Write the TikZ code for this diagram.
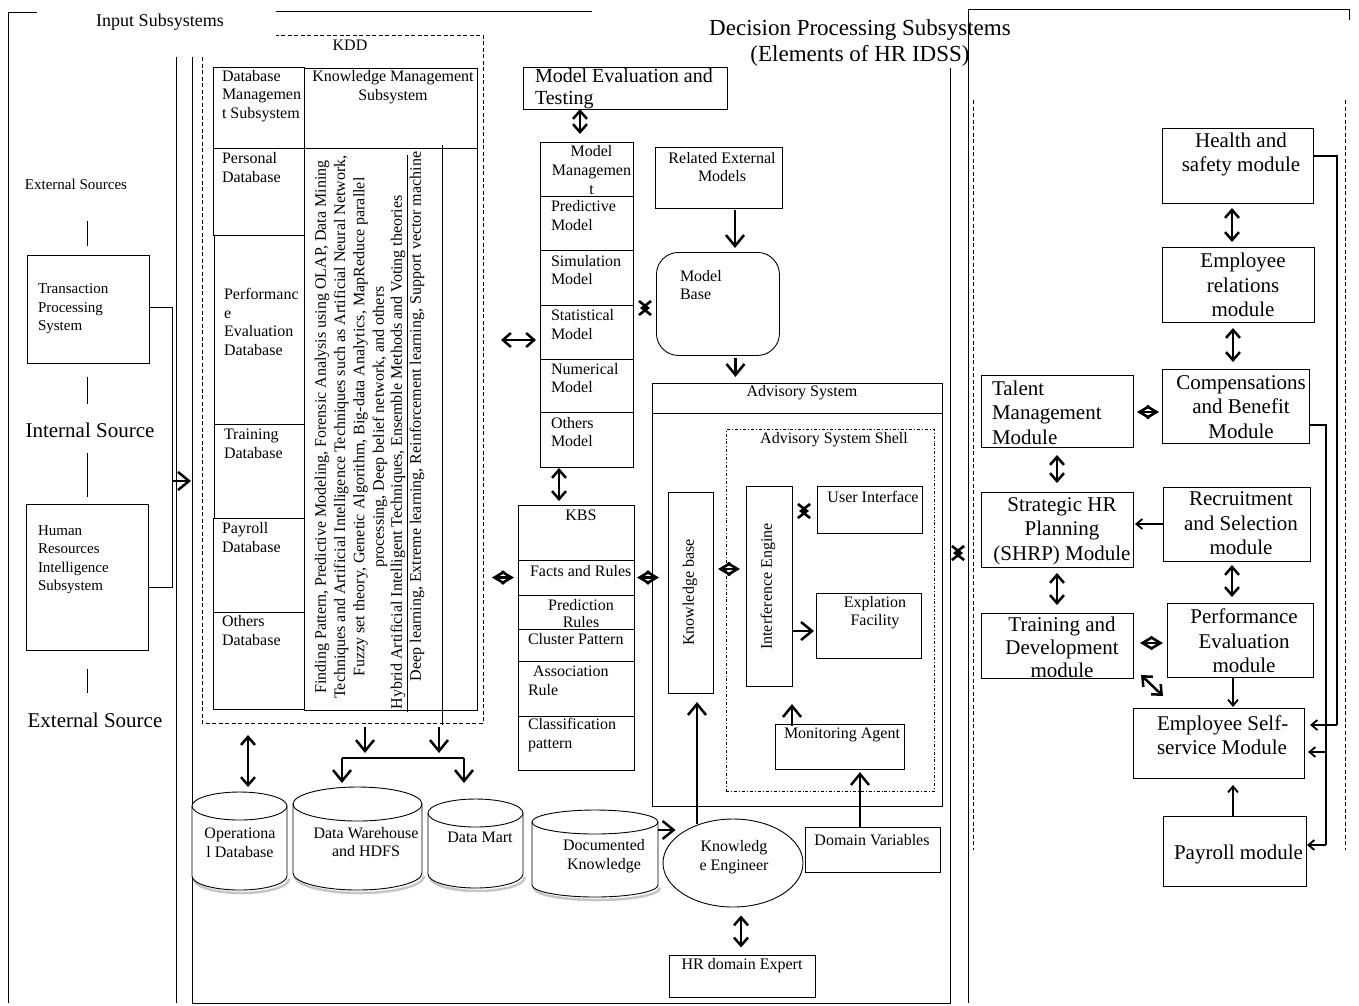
\documentclass[tikz,border=0pt]{standalone}
\usepackage{fontspec}
\setmainfont{Liberation Serif}
\usetikzlibrary{arrows.meta,shapes.geometric}
\newcommand\rbox[5]{\node[bx, minimum width={(#4-#2)*1pt}, minimum height={(#5-#3)*1pt}] (#1) at (#2,#3) {};}
\newcommand\cyl[6]{%
 \pgfmathsetmacro\crx{(#3-#2)/2}%
 \draw[gray!45, line width=2.5pt] (#2+2,#5-#6+3) arc[start angle=180,end angle=360,x radius=\crx pt,y radius=#6pt];%
 \draw[fill=white] (#2,#4+#6) -- (#2,#5-#6) arc[start angle=180,end angle=360,x radius=\crx pt,y radius=#6pt] -- (#3,#4+#6) arc[start angle=0,end angle=180,x radius=\crx pt,y radius=#6pt] -- cycle;%
 \draw (#2,#4+#6) arc[start angle=180,end angle=360,x radius=\crx pt,y radius=#6pt];%
 \node[tx] (#1) at ({(#2+#3)/2},{(#4+#5)/2}) {};%
}
\tikzset{
 bx/.style={draw, line width=0.9pt, inner sep=0pt, outer sep=0pt, anchor=north west},
 tx/.style={inner sep=0pt, outer sep=0pt},
 f15/.style={font=\fontsize{15}{18.5}\selectfont},
 f16/.style={font=\fontsize{16}{18.7}\selectfont},
 f16r/.style={font=\fontsize{16}{19.3}\selectfont},
 f18/.style={font=\fontsize{18}{21}\selectfont},
 f20/.style={font=\fontsize{20}{22}\selectfont},
 f21/.style={font=\fontsize{21}{24.5}\selectfont},
 f23/.style={font=\fontsize{23}{25.5}\selectfont},
 ar/.style={line width=2.5pt, -{Straight Barb[length=11pt,width=18pt]}},
 dar/.style={line width=2.5pt, {Straight Barb[length=8pt,width=14pt]}-{Straight Barb[length=8pt,width=14pt]}},
 dia/.style={line width=2.6pt, {Straight Barb[length=10pt,width=12pt]}-{Straight Barb[length=10pt,width=12pt]}},
 stararr/.style={line width=2.6pt, {Straight Barb[length=9pt,width=14pt]}-{Straight Barb[length=9pt,width=14pt]}},
 sar/.style={line width=1.8pt, -{Straight Barb[length=6pt,width=10pt]}},
 thinl/.style={line width=1.1pt},
}
\begin{document}
\begin{tikzpicture}[x=1pt,y=-1pt,line width=0.9pt]
\useasboundingbox (0,0) rectangle (1359,1005);
\fill[white] (0,0) rectangle (1359,1005);

% ---------- frames ----------
\draw (37,12) -- (8,12) -- (8,1003);
\draw (276,11) -- (592,11);
\node[tx,f18] (insub) at (160,22) {Input Subsystems};
\draw (176,57) -- (176,1003);
\draw (192,57) -- (192,1003) -- (950,1003) -- (950,68);
\draw (968,1003) -- (968,9) -- (1349,9) -- (1349,20);
\draw[dash pattern=on 4pt off 2.5pt] (973,100) -- (973,850);
\draw[dash pattern=on 4pt off 2.5pt] (1345,100) -- (1345,850);
\node[tx,f23,align=center] (dps) at (860,43) {Decision Processing Subsystems\\(Elements of HR IDSS)};

% ---------- left: sources ----------
\node[tx,f15] (exts) at (76,184) {External Sources};
\rbox{tps}{27}{255}{149}{363}
\node[tx,f15,align=left,anchor=west] (tpst) at (38,309) {Transaction\\Processing\\System};
\node[tx,f21] (ints) at (90,430) {Internal Source};
\rbox{hris}{26}{504}{148}{650}
\node[tx,f15,align=left,anchor=west] (hrist) at (38,559.5) {Human\\Resources\\Intelligence\\Subsystem};
\node[tx,f21] (ext) at (95,720) {External Source};
\draw (87,221) -- (87,246);
\draw (87,377) -- (87,404);
\draw (87,453) -- (87,497);
\draw (87,669) -- (87,693);
\draw ([yshift=2pt]tps.east) -- ++(23,0) |- ([yshift=-10pt]hris.east);
\coordinate (inj) at (172,481);
\draw[ar] (inj) -- ++(19,0);

% ---------- KDD ----------
\draw[dash pattern=on 4pt off 2.5pt] (202,57) -- (202,723) -- (483,723) -- (483,35) -- (276,35);
\coordinate (kddbl) at (202,723);
\node[tx,f16] (kddl) at (350,45) {KDD};
\rbox{dbh}{213}{67}{304}{148}
\rbox{dbp}{213}{148}{304}{235}
\rbox{dbe}{214}{235}{304}{424}
\rbox{dbt}{214}{424}{304}{518}
\rbox{dby}{213}{518}{304}{612}
\rbox{dbo}{213}{612}{304}{709}
\node[tx,f16,align=left,anchor=west] at (222,96) {Database\\Managemen\\t Subsystem};
\node[tx,f16,align=left,anchor=west] at (222,167.5) {Personal\\Database};
\node[tx,f16,align=left,anchor=west] at (224,322) {Performanc\\e\\Evaluation\\Database};
\node[tx,f16,align=left,anchor=west] at (224,443.5) {Training\\Database};
\node[tx,f16,align=left,anchor=west] at (222,537.5) {Payroll\\Database};
\node[tx,f16,align=left,anchor=west] at (222,630.5) {Others\\Database};
\rbox{km}{304}{68}{477}{710}
\draw (km.west |- 0,148) -- (km.east |- 0,148);
\draw (442,145) -- (442,725);
\draw (407,155) -- (407,712);
\node[tx,f16,align=center] (kmh) at (393,87) {Knowledge Management\\Subsystem};
\node[tx,f16r,align=center,rotate=90] (kmt) at (351,427) {Finding Pattern, Predictive Modeling, Forensic Analysis using OLAP, Data Mining\\Techniques and Artificial Intelligence Techniques such as Artificial Neural Network,\\Fuzzy set theory, Genetic Algorithm, Big-data Analytics, MapReduce parallel\\processing, Deep belief network, and others};
\node[tx,f16,rotate=90,anchor=west] (hyb) at (398,709) {Hybrid Artificial Intelligent Techniques, Ensemble Methods and Voting theories};
\node[tx,f16,rotate=90,anchor=west] (deep) at (417,681) {Deep learning, Extreme learning, Reinforcement learning, Support vector machine};

% ---------- Model management ----------
\rbox{met}{523}{67}{727}{109}
\node[tx,f20,align=left,anchor=west] at (535,89) {Model Evaluation and\\Testing};
\rbox{mm0}{540}{142}{633}{196}
\rbox{mm1}{540}{196}{633}{250}
\rbox{mm2}{540}{250}{633}{305}
\rbox{mm3}{540}{305}{633}{359}
\rbox{mm4}{540}{359}{633}{412}
\rbox{mm5}{540}{412}{633}{467}
\node[tx,f16,align=center] at (591.5,170) {Model\\Managemen\\t};
\node[tx,f16,align=left,anchor=west] at (551,215.5) {Predictive\\Model};
\node[tx,f16,align=left,anchor=west] at (551,270) {Simulation\\Model};
\node[tx,f16,align=left,anchor=west] at (551,324.5) {Statistical\\Model};
\node[tx,f16,align=left,anchor=west] at (551,378) {Numerical\\Model};
\node[tx,f16,align=left,anchor=west] at (551,432) {Others\\Model};
\rbox{rem}{655}{147}{782}{208}
\node[tx,f16,align=center] at (722,167) {Related External\\Models};
\node[draw, rounded corners=22pt, inner sep=0pt, anchor=north west, minimum width=123pt, minimum height=103pt] (mb) at (656,252) {};
\node[tx,f16,align=left,anchor=west] at (680,285) {Model\\Base};
\draw[dar] ([xshift=57pt]met.south west) -- ++(0,25);
\draw[ar] ([xshift=16.5pt,yshift=-2pt]rem.south) -- ++(0,38);
\draw[ar] ([xshift=17.5pt,yshift=-2pt]mb.south) -- ++(0,19);
\draw[stararr] ([xshift=7pt,yshift=-3pt]mm3.north east) -- ++(10,0);
\draw[dar] ([xshift=-4pt,yshift=-8pt]mm3.west) -- ++(-35,0);
\draw[dar] ([xshift=19pt,yshift=-1pt]mm5.south west) -- ++(0,33);

% ---------- KBS ----------
\rbox{kbs0}{518}{505}{634}{560}
\rbox{kbs1}{518}{560}{634}{595}
\rbox{kbs2}{518}{595}{634}{629}
\rbox{kbs3}{518}{629}{634}{661}
\rbox{kbs4}{518}{661}{634}{716}
\rbox{kbs5}{518}{716}{634}{770}
\node[tx,f16] at (581,515) {KBS};
\node[tx,f16,anchor=west] at (530,571) {Facts and Rules};
\node[tx,f16,align=center,font=\fontsize{16}{17}\selectfont] at (581,613.5) {Prediction\\Rules};
\node[tx,f16,anchor=west] at (528,639) {Cluster Pattern};
\node[tx,f16,align=left,anchor=west] at (528,680.5) {\hspace*{5pt}Association\\Rule};
\node[tx,f16,align=left,anchor=west] at (528,735) {Classification\\pattern};
\draw[dia] ([xshift=-4pt]kbs1.west) -- ++(-22,0);
\draw[dia] ([xshift=3pt]kbs1.east) -- ++(22,0);

% ---------- Advisory system ----------
\rbox{as}{652}{383}{942}{806}
\draw (as.west |- 0,413) -- (as.east |- 0,413);
\node[tx,f16] at (802,393) {Advisory System};
\node[draw, dash dot, inner sep=0pt, anchor=north west, minimum width=208pt, minimum height=362pt] (shell) at (726,429) {};
\node[tx,f16] at (834,440) {Advisory System Shell};
\rbox{kb}{668}{492}{713}{693}
\node[tx,f16,rotate=90] at (690,592.5) {Knowledge base};
\rbox{ie}{746}{486}{792}{686}
\node[tx,f16,rotate=90] at (768,586.5) {Interference Engine};
\rbox{ui}{817}{486}{922}{533}
\node[tx,f16] at (873,497) {User Interface};
\rbox{ef}{816}{593}{921}{658}
\node[tx,f16,align=center,font=\fontsize{16}{18}\selectfont] at (875,613) {Explation\\Facility};
\rbox{ma}{775}{724}{904}{769}
\node[tx,f16] at (842,735) {Monitoring Agent};
\draw[dia] ([xshift=5pt,yshift=23.5pt]kb.east) -- ++(22,0);
\draw[stararr] ([xshift=7pt,yshift=-25pt]ie.north east) -- ++(10,0);
\draw[ar] ([xshift=1pt,yshift=-45pt]ie.east) -- ++(21,0);
\draw[ar] ([xshift=17pt,yshift=-2pt]ma.north west) -- ++(0,-22);

% ---------- bottom ----------
\cyl{op}{192}{287}{792}{890}{14}
\cyl{dw}{293}{422}{787}{890}{17}
\cyl{dm}{428}{523}{799}{888}{14}
\cyl{dk}{532}{658}{810}{897}{12}
\node[tx,f16,align=center] at (240,842.5) {Operationa\\l Database};
\node[tx,f16,align=center] at (366,842) {Data Warehouse\\and HDFS};
\node[tx,f16] at (480,837) {Data Mart};
\node[tx,f16,align=center] at (604,856.5) {Documented\\Knowledge};
\node[draw, ellipse, inner sep=0pt, minimum width=140pt, minimum height=88pt] (ke) at (733,863) {};
\node[tx,f16,align=center] at (734,857.5) {Knowledg\\e Engineer};
\rbox{hr}{669}{955}{815}{997}
\node[tx,f16] at (742,966) {HR domain Expert};
\rbox{dv}{805}{827}{940}{872}
\node[tx,f16] at (872,840) {Domain Variables};
\draw[dar] ([xshift=46pt,yshift=-12pt]kddbl) -- ++(0,52);
\draw[ar] ([xshift=163pt,yshift=-4pt]kddbl) -- ++(0,26);
\draw[ar] ([xshift=237pt,yshift=-4pt]kddbl) -- ++(0,26);
\draw[line width=2pt] ([xshift=140pt,yshift=-35pt]kddbl) -- ++(122,0);
\draw[ar] ([xshift=140pt,yshift=-35pt]kddbl) -- ++(0,25);
\draw[ar] ([xshift=262pt,yshift=-35pt]kddbl) -- ++(0,25);
\draw[ar] ([xshift=-5pt,yshift=33pt]ke.west) -- ++(18,0);
\draw[ar] ([xshift=-36pt,yshift=-5pt]ke.north) -- ([xshift=6.5pt,yshift=-9pt]kb.south);
\draw[ar] ([xshift=-12.5pt]dv.north) -- ([xshift=20.5pt,yshift=-3pt]ma.south);
\draw[dar] ([xshift=8pt,yshift=-8pt]ke.south) -- ++(0,32);

% ---------- right: HR modules ----------
\rbox{hs}{1162}{128}{1313}{203}
\rbox{er}{1162}{247}{1314}{322}
\rbox{cb}{1162}{369}{1309}{443}
\rbox{tm}{981}{375}{1133}{447}
\rbox{sh}{981}{492}{1133}{567}
\rbox{rs}{1163}{487}{1310}{561}
\rbox{td}{981}{613}{1133}{678}
\rbox{pe}{1167}{603}{1313}{677}
\rbox{es}{1133}{708}{1304}{778}
\rbox{py}{1163}{816}{1306}{886}
\node[tx,f21,align=center] at (1241,154.5) {Health and\\safety module};
\node[tx,f21,align=center] at (1243,285) {Employee\\relations\\module};
\node[tx,f21,align=center] at (1241,407) {Compensations\\and Benefit\\Module};
\node[tx,f21,align=left,anchor=west] at (992,412.5) {Talent\\Management\\Module};
\node[tx,f21,align=center] at (1062,531) {Strategic HR\\Planning\\(SHRP) Module};
\node[tx,f21,align=center] at (1241,523.5) {Recruitment\\and Selection\\module};
\node[tx,f21,align=center,font=\fontsize{21}{23.2}\selectfont] at (1062,647.5) {Training and\\Development\\module};
\node[tx,f21,align=center] at (1244,641) {Performance\\Evaluation\\module};
\node[tx,f21,align=left,anchor=west] at (1157,735) {Employee Self-\\service Module};
\node[tx,f21,anchor=west] at (1174,854) {Payroll module};
\draw[dar] ([xshift=-5.5pt,yshift=-5pt]hs.south) -- ++(0,34);
\draw[dar] ([xshift=-5pt,yshift=-6pt]er.south) -- ++(0,34);
\draw[dia] ([xshift=4pt,yshift=-1pt]tm.east) -- ++(22,0);
\draw[dar] ([yshift=-8pt]tm.south) -- ++(0,28);
\draw[sar] (rs.west) -- ++(-28,0);
\draw[dar] ([yshift=-6pt]sh.south) -- ++(0,32);
\draw[dar] ([xshift=-4.5pt,yshift=-4pt]rs.south) -- ++(0,32);
\draw[dia] ([xshift=7pt,yshift=2.5pt]td.east) -- ++(23,0);
\draw[dar] ([xshift=8pt,yshift=3pt]td.south east) -- ++(22,21);
\draw[sar] ([xshift=-7pt]pe.south) -- ++(0,30);
\draw[sar] ([xshift=-1.5pt]py.north) -- ++(0,-31);
\draw[thinl] ([yshift=-28pt]hs.north east) -- ++(24,0) -- ++(0,569);
\draw[sar] ([xshift=24pt,yshift=-597pt]hs.north east) -- ++(-27,0);
\draw[thinl] ([yshift=18pt]cb.south east) -- ++(17,0) -- ++(0,420);
\draw[sar] ([xshift=17pt,yshift=-402pt]cb.south east) -- ++(-19,0);
\draw[sar] ([xshift=22pt,yshift=-9pt]es.east) -- ++(-18,0);
\draw[stararr] ([xshift=-28pt,yshift=-23.5pt]sh.west) -- ++(10,0);
\end{tikzpicture}
\end{document}
